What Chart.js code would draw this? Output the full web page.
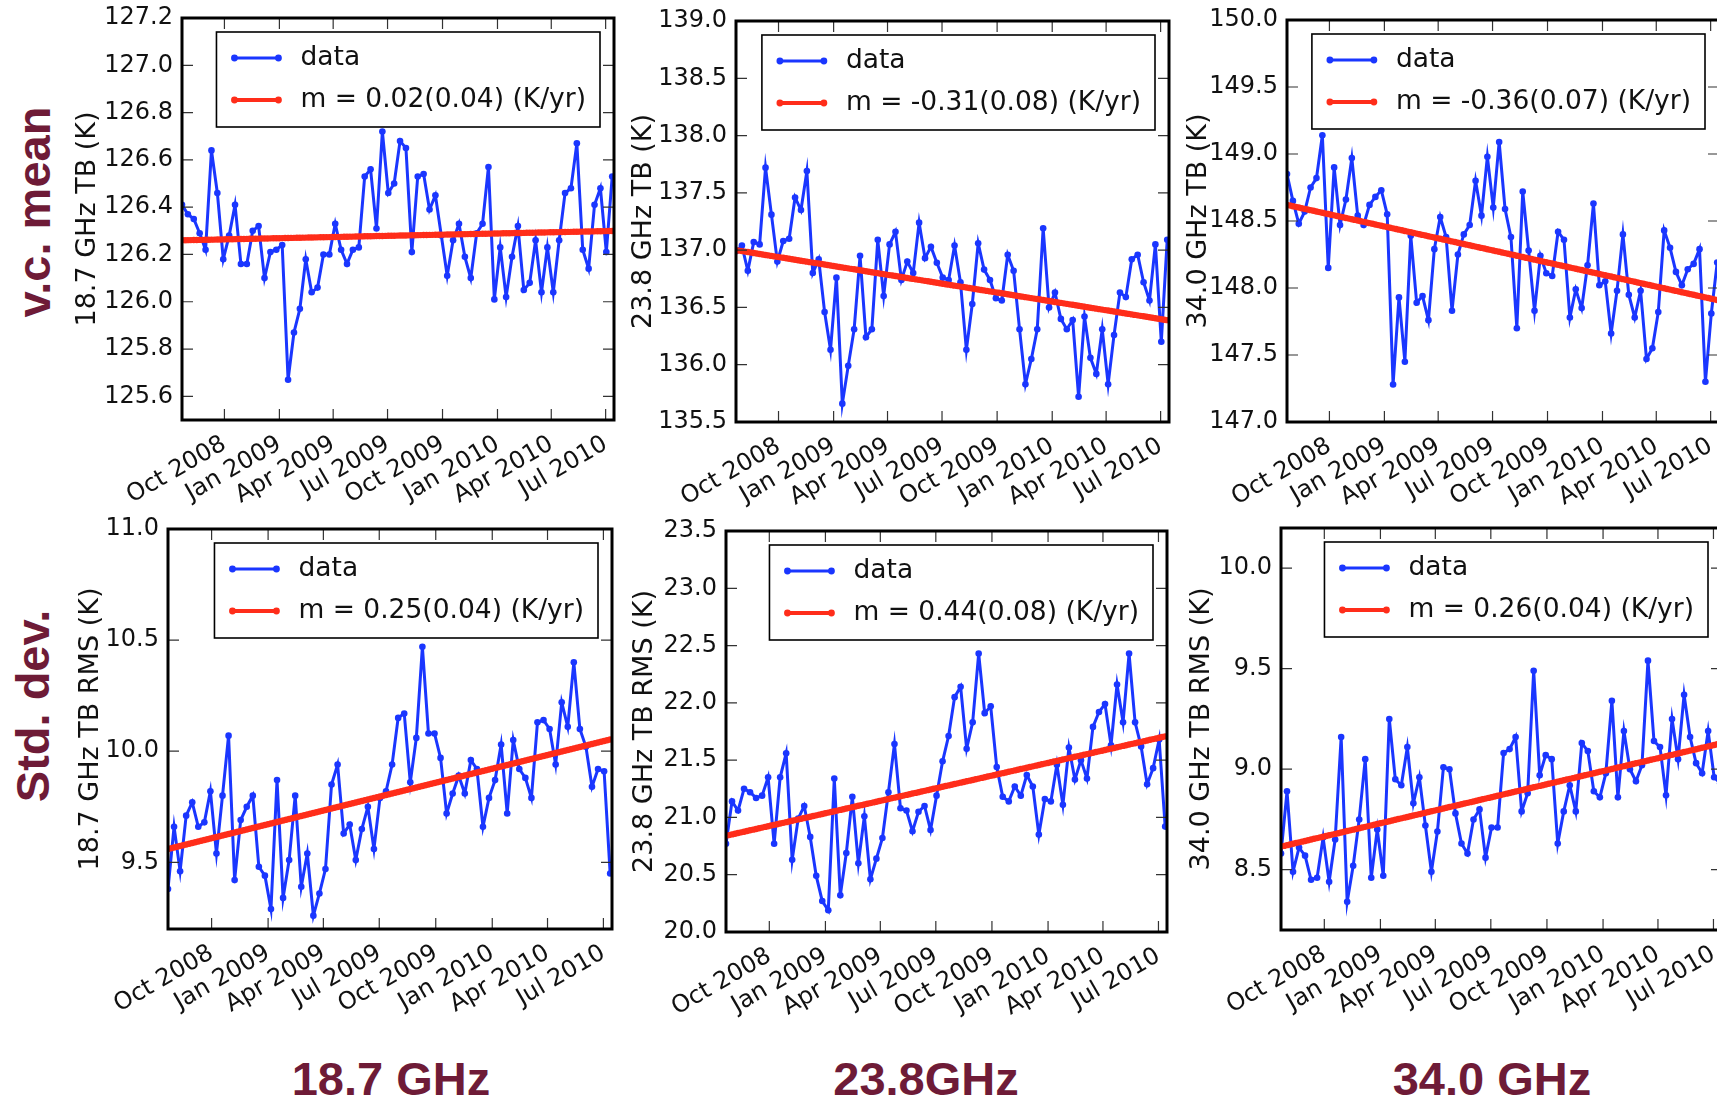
<!DOCTYPE html>
<html>
<head>
<meta charset="utf-8">
<script src="https://cdn.jsdelivr.net/npm/chart.js"></script>
<style>
  html, body { margin: 0; padding: 0; background: #fff; }
  body { width: 1717px; height: 1103px; overflow: hidden; position: relative; }
  canvas { position: absolute; }
  .lab { position: absolute; font-family: "Liberation Sans", Arial, sans-serif; font-weight: bold;
         color: #6e1b37; font-size: 47px; white-space: nowrap; transform: translate(-50%, -50%); }
  .rot { transform: translate(-50%, -50%) rotate(-90deg); }
</style>
</head>
<body>
<div class="lab rot" style="left:33px; top:212px;">v.c. mean</div>
<div class="lab rot" style="left:32px; top:706px;">Std. dev.</div>
<div class="lab" style="left:391px; top:1078px;">18.7 GHz</div>
<div class="lab" style="left:926px; top:1078px;">23.8GHz</div>
<div class="lab" style="left:1492px; top:1078px;">34.0 GHz</div>

<script>
// sampling period of the series
const firstSample = Date.UTC(2008, 6, 22);
const lastSample = Date.UTC(2010, 6, 12);
const nSamples = 74;

const quarterDates = [[2008, 9], [2009, 0], [2009, 3], [2009, 6], [2009, 9], [2010, 0], [2010, 3], [2010, 6]];
const quarterLabels = ['Oct 2008', 'Jan 2009', 'Apr 2009', 'Jul 2009', 'Oct 2009', 'Jan 2010', 'Apr 2010', 'Jul 2010'];

// v.c. mean TB (K)
const vcMean187 = [126.41,126.37,126.35,126.29,126.22,126.64,126.46,126.18,126.28,126.41,
  126.16,126.16,126.30,126.32,126.10,126.21,126.22,126.24,125.67,125.87,
  125.97,126.18,126.04,126.06,126.20,126.20,126.33,126.22,126.16,126.22,
  126.23,126.53,126.56,126.31,126.72,126.46,126.50,126.68,126.65,126.21,
  126.53,126.54,126.39,126.45,126.28,126.11,126.26,126.33,126.19,126.10,
  126.29,126.33,126.57,126.01,126.23,126.02,126.19,126.32,126.05,126.08,
  126.26,126.04,126.23,126.04,126.26,126.46,126.48,126.67,126.22,126.14,
  126.41,126.48,126.21,126.53];
const vcMean238 = [136.99,137.04,136.82,137.07,137.05,137.72,137.31,136.90,137.08,137.10,
  137.46,137.35,137.69,136.80,136.92,136.46,136.13,136.76,135.66,135.99,
  136.31,136.95,136.24,136.31,137.09,136.60,137.05,137.16,136.74,136.90,
  136.80,137.24,136.93,137.03,136.89,136.76,136.74,137.04,136.72,136.13,
  136.53,137.06,136.83,136.74,136.58,136.56,136.96,136.82,136.31,135.83,
  136.05,136.31,137.19,136.50,136.63,136.40,136.31,136.39,135.72,136.42,
  136.06,135.92,136.31,135.83,136.26,136.63,136.59,136.92,136.96,136.72,
  136.56,137.05,136.20,137.09];
const vcMean340 = [148.85,148.65,148.48,148.57,148.75,148.82,149.14,148.15,148.90,148.47,
  148.66,148.97,148.54,148.47,148.62,148.68,148.73,148.55,147.28,147.93,
  147.45,148.39,147.89,147.94,147.76,148.29,148.53,148.38,147.83,148.25,
  148.40,148.47,148.80,148.54,148.98,148.60,149.09,148.59,148.38,147.70,
  148.72,148.28,147.83,148.24,148.11,148.09,148.42,148.36,147.78,147.99,
  147.85,148.17,148.63,148.02,148.05,147.66,147.98,148.40,147.95,147.78,
  147.98,147.47,147.55,147.82,148.43,148.30,148.12,148.02,148.14,148.18,
  148.29,147.30,147.81,148.19];

// std. dev. TB RMS (K)
const stdDev187 = [9.38,9.66,9.46,9.71,9.77,9.66,9.68,9.82,9.54,9.80,
  10.07,9.42,9.69,9.75,9.80,9.48,9.44,9.29,9.87,9.34,
  9.51,9.80,9.39,9.54,9.26,9.36,9.47,9.85,9.94,9.63,
  9.67,9.51,9.65,9.75,9.56,9.79,9.82,9.94,10.15,10.17,
  9.86,10.06,10.47,10.08,10.08,9.97,9.72,9.81,9.89,9.81,
  9.96,9.92,9.66,9.79,9.87,10.03,9.72,10.05,9.92,9.88,
  9.79,10.13,10.14,10.10,9.94,10.22,10.11,10.40,10.10,10.02,
  9.84,9.92,9.91,9.45];
const stdDev238 = [20.77,21.14,21.06,21.25,21.22,21.17,21.19,21.35,20.77,21.35,
  21.56,20.63,20.99,21.10,20.83,20.49,20.27,20.19,21.34,20.32,
  20.69,21.18,20.60,21.01,20.46,20.64,20.82,21.22,21.64,21.08,
  21.06,20.88,21.05,21.10,20.89,21.19,21.49,21.71,22.05,22.14,
  21.60,21.83,22.43,21.91,21.97,21.44,21.18,21.14,21.27,21.19,
  21.37,21.27,20.85,21.16,21.14,21.46,21.11,21.61,21.33,21.50,
  21.34,21.79,21.92,21.99,21.63,22.16,21.83,22.43,21.83,21.62,
  21.29,21.43,21.68,20.92];
const stdDev340 = [8.58,8.89,8.49,8.61,8.57,8.45,8.46,8.66,8.44,8.65,
  9.16,8.34,8.52,8.75,9.05,8.46,8.70,8.47,9.25,8.95,
  8.92,9.11,8.83,8.96,8.72,8.49,8.69,9.01,9.00,8.78,
  8.63,8.58,8.75,8.80,8.56,8.71,8.71,9.08,9.10,9.16,
  8.79,8.88,9.49,8.97,9.07,9.05,8.63,8.79,8.92,8.79,
  9.13,9.09,8.89,8.86,8.98,9.34,8.86,9.19,9.00,8.94,
  9.02,9.54,9.14,9.11,8.87,9.25,9.05,9.37,9.16,9.03,
  8.98,9.19,8.96,8.93];

// linear fits: value at first sample and slope m (K/yr)
const fitStart = [126.26, 137.00, 148.62, 9.56, 20.84, 8.615];
const fitSlope = [0.02, -0.31, -0.36, 0.25, 0.44, 0.26];
const fitErr = ['0.04', '0.08', '0.07', '0.04', '0.08', '0.04'];

const yTicksMean187 = [125.6, 125.8, 126.0, 126.2, 126.4, 126.6, 126.8, 127.0, 127.2];
const yTicksMean238 = [135.5, 136.0, 136.5, 137.0, 137.5, 138.0, 138.5, 139.0];
const yTicksMean340 = [147.0, 147.5, 148.0, 148.5, 149.0, 149.5, 150.0];
const yTicksStd187 = [9.5, 10.0, 10.5, 11.0];
const yTicksStd238 = [20.0, 20.5, 21.0, 21.5, 22.0, 22.5, 23.0, 23.5];
const yTicksStd340 = [8.5, 9.0, 9.5, 10.0];

const DAY = 86400000;
const span = (lastSample - firstSample) / DAY;
const sampleDays = Array.from({length: nSamples}, (_, i) => i * span / (nSamples - 1));
const quarterDays = quarterDates.map(([y, m]) => (Date.UTC(y, m, 1) - firstSample) / DAY);
const xMax = span + 3;

const BLUE = '#1a36ff';
const RED = '#ff2d1a';
const FONT = '"DejaVu Sans", sans-serif';

// inward ticks on all four sides plus the black frame
const frame = {
  id: 'frame',
  afterDatasetsDraw(chart) {
    const {ctx, chartArea: a, scales: {x, y}} = chart;
    ctx.save();
    ctx.strokeStyle = '#333';
    ctx.lineWidth = 1.2;
    ctx.beginPath();
    quarterDays.forEach(v => {
      const px = x.getPixelForValue(v);
      ctx.moveTo(px, a.bottom); ctx.lineTo(px, a.bottom - 11);
      ctx.moveTo(px, a.top); ctx.lineTo(px, a.top + 11);
    });
    y.ticks.forEach(t => {
      const py = y.getPixelForValue(t.value);
      ctx.moveTo(a.left, py); ctx.lineTo(a.left + 11, py);
      ctx.moveTo(a.right, py); ctx.lineTo(a.right - 11, py);
    });
    ctx.stroke();
    ctx.strokeStyle = '#000';
    ctx.lineWidth = 3;
    ctx.strokeRect(a.left, a.top, a.right - a.left, a.bottom - a.top);
    ctx.restore();
  }
};

// boxed legend in the upper right corner of the axes
const legendBox = {
  id: 'legendBox',
  afterDraw(chart) {
    const {ctx, chartArea: a} = chart;
    const sets = chart.data.datasets;
    ctx.save();
    ctx.font = '26.5px ' + FONT;
    const textW = Math.max(...sets.map(d => ctx.measureText(d.label).width));
    const w = 18 + 44 + 25 + textW + 11, h = 95;
    const x0 = a.right - 14 - w, y0 = a.top + 14;
    ctx.fillStyle = '#fff';
    ctx.fillRect(x0, y0, w, h);
    ctx.lineWidth = 1.6;
    ctx.strokeStyle = '#000';
    ctx.strokeRect(x0, y0, w, h);
    sets.slice().sort((p, q) => q.order - p.order).forEach((d, i) => {
      const yy = y0 + 26 + i * 42;
      ctx.strokeStyle = d.borderColor;
      ctx.lineWidth = d.borderWidth;
      ctx.beginPath(); ctx.moveTo(x0 + 18, yy); ctx.lineTo(x0 + 62, yy); ctx.stroke();
      ctx.fillStyle = d.borderColor;
      [x0 + 18, x0 + 62].forEach(px => { ctx.beginPath(); ctx.arc(px, yy, 3.4, 0, Math.PI * 2); ctx.fill(); });
      ctx.fillStyle = '#111';
      ctx.textBaseline = 'middle';
      ctx.textAlign = 'left';
      ctx.fillText(d.label, x0 + 84, yy);
    });
    ctx.restore();
  }
};

const panels = [
  {values: vcMean187, box: [182, 18, 614, 420], y: [125.5, 127.2], ticks: yTicksMean187, title: '18.7 GHz TB (K)', titleX: 88},
  {values: vcMean238, box: [736, 21, 1169, 422], y: [135.5, 139.0], ticks: yTicksMean238, title: '23.8 GHz TB (K)', titleX: 644},
  {values: vcMean340, box: [1287, 20, 1719, 422], y: [147.0, 150.0], ticks: yTicksMean340, title: '34.0 GHz TB (K)', titleX: 1199},
  {values: stdDev187, box: [168, 529, 612, 929], y: [9.2, 11.0], ticks: yTicksStd187, title: '18.7 GHz TB RMS (K)', titleX: 91},
  {values: stdDev238, box: [726, 531, 1167, 932], y: [20.0, 23.5], ticks: yTicksStd238, title: '23.8 GHz TB RMS (K)', titleX: 645},
  {values: stdDev340, box: [1281, 528, 1722, 930], y: [8.2, 10.2], ticks: yTicksStd340, title: '34.0 GHz TB RMS (K)', titleX: 1202}
];

panels.forEach((p, k) => {
  const yW = 120, padTop = 18, padR = 4, xH = 95;
  const [L, T, R, B] = p.box;
  const w = R - L + yW + padR, h = B - T + padTop + xH;
  const cv = document.createElement('canvas');
  cv.width = w; cv.height = h;
  cv.style.left = (L - yW) + 'px';
  cv.style.top = (T - padTop) + 'px';
  cv.style.width = w + 'px';
  cv.style.height = h + 'px';
  document.body.appendChild(cv);

  // fitted trend, sampled twice as densely as the data
  const fitDays = Array.from({length: 2 * nSamples - 1}, (_, i) => i * span / (2 * nSamples - 2));
  const fit = fitDays.map(d => ({x: d, y: fitStart[k] + fitSlope[k] * d / 365.25}));
  const m = fitSlope[k].toFixed(2);

  new Chart(cv, {
    type: 'line',
    data: {
      datasets: [
        {label: 'data', data: p.values.map((v, i) => ({x: sampleDays[i], y: v})), order: 1,
         borderColor: BLUE, backgroundColor: BLUE, borderWidth: 3, pointRadius: 3.3,
         pointBorderWidth: 0, tension: 0},
        {label: 'm = ' + m + '(' + fitErr[k] + ') (K/yr)', data: fit, order: 0,
         borderColor: RED, backgroundColor: RED, borderWidth: 4.2, pointRadius: 3.2,
         pointBorderWidth: 0, tension: 0}
      ]
    },
    options: {
      responsive: false,
      animation: false,
      events: [],
      layout: {padding: {top: padTop, right: padR, left: 0, bottom: 0}},
      plugins: {legend: {display: false}, tooltip: {enabled: false}},
      scales: {
        x: {
          type: 'linear', min: 0, max: xMax,
          grid: {display: false, drawTicks: false}, border: {display: false},
          afterBuildTicks: s => { s.ticks = quarterDays.map(v => ({value: v})); },
          afterFit: s => { s.height = xH; s.paddingLeft = 0; s.paddingRight = 0; },
          ticks: {
            autoSkip: false, minRotation: 30, maxRotation: 30, padding: 10,
            color: '#111', font: {family: FONT, size: 24},
            callback: v => quarterLabels[quarterDays.indexOf(v)]
          }
        },
        y: {
          min: p.y[0], max: p.y[1],
          grid: {display: false, drawTicks: false}, border: {display: false},
          afterBuildTicks: s => { s.ticks = p.ticks.map(v => ({value: v})); },
          afterFit: s => { s.width = yW; s.paddingTop = 0; s.paddingBottom = 0; },
          ticks: {padding: 9, color: '#111', font: {family: FONT, size: 24}, callback: v => v.toFixed(1)},
          title: {
            display: true, text: p.title, color: '#111', font: {family: FONT, size: 27},
            padding: {top: p.titleX - (L - yW) - 16.2, bottom: 0}
          }
        }
      }
    },
    plugins: [frame, legendBox]
  });
});
</script>
</body>
</html>
